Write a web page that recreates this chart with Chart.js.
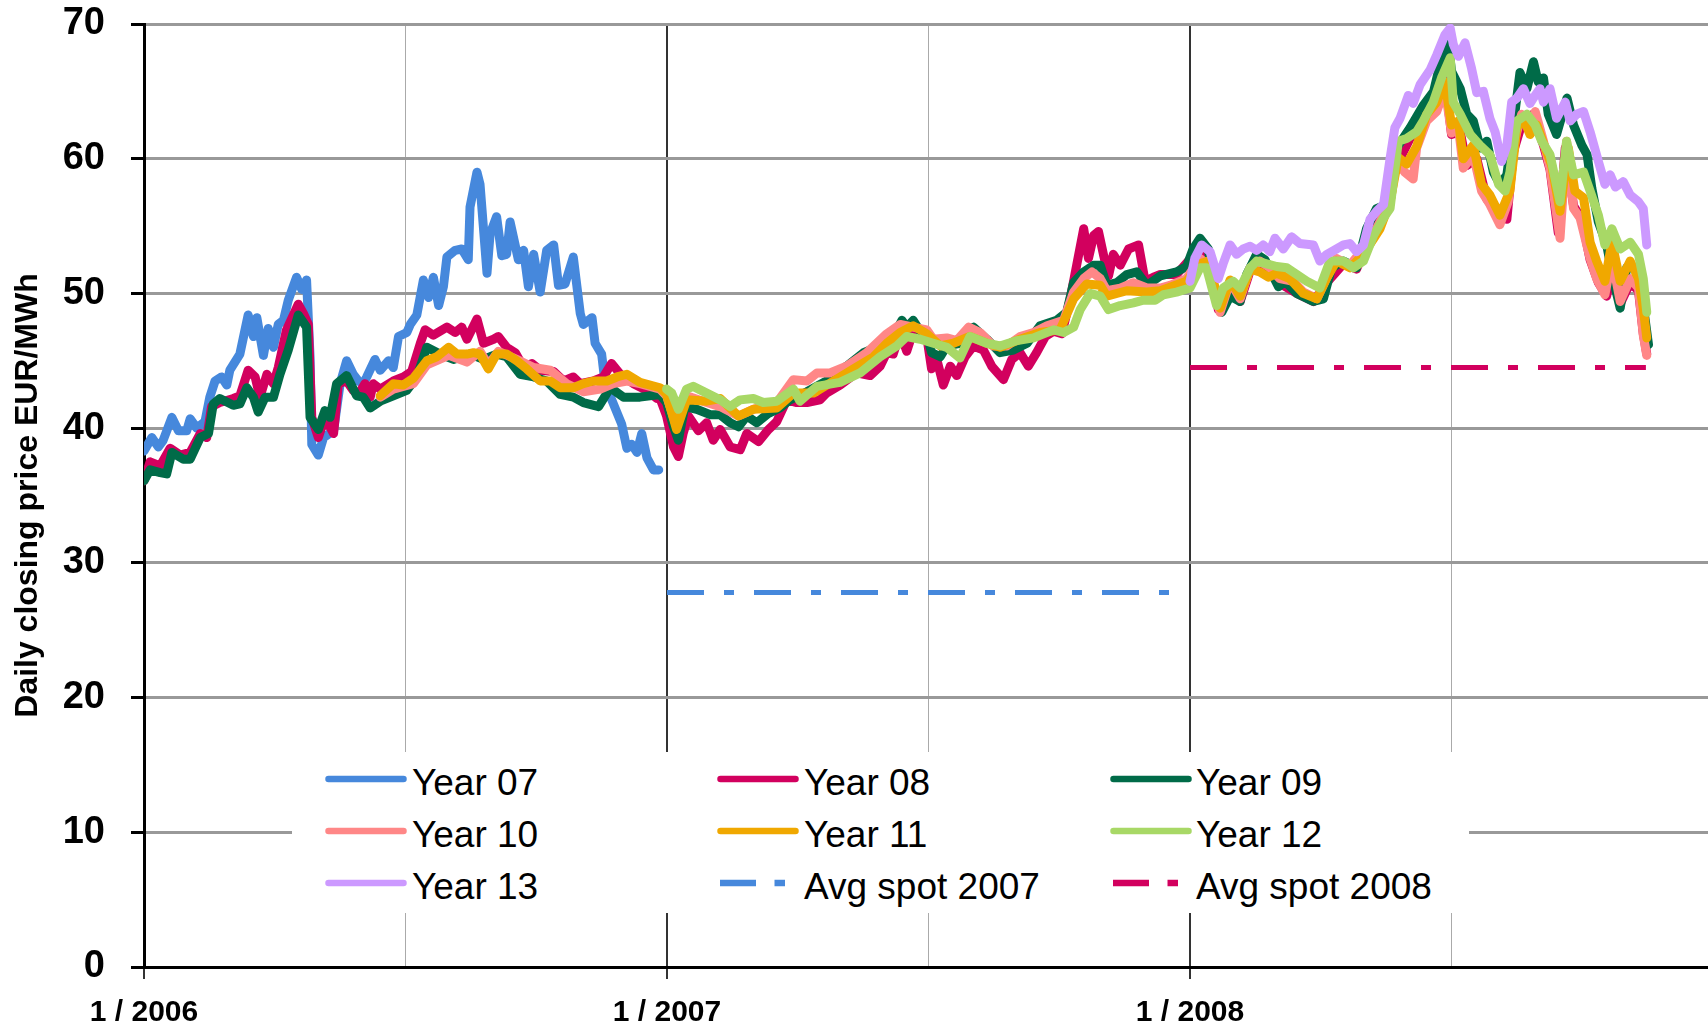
<!DOCTYPE html>
<html>
<head>
<meta charset="utf-8">
<title>Daily closing price</title>
<script src="https://cdn.jsdelivr.net/npm/chart.js@4/dist/chart.umd.min.js"></script>
<style>
  html, body { margin: 0; padding: 0; background: #fff; }
  #wrap { position: relative; width: 1708px; height: 1029px; }
  #legend { position: absolute; left: 292px; top: 752px; width: 1177px; height: 161px; background: #fff;
            font-family: "Liberation Sans", Arial, sans-serif; font-size: 37px; color: #000; }
  #legend .txt { position: absolute; line-height: 37px; white-space: nowrap; }
  #legend svg { position: absolute; }
</style>
</head>
<body>
<div id="wrap">
  <canvas id="myChart" width="1708" height="1029"></canvas>
  <div id="legend"></div>
</div>
<script>
// x = months since 1/2006, y = EUR/MWh
const year07 = [[0.00,38.3],[0.18,39.3],[0.33,38.6],[0.44,39.1],[0.64,40.8],[0.79,39.8],[0.98,39.8],[1.06,40.7],[1.21,40.0],[1.40,40.5],[1.51,42.3],[1.63,43.5],[1.78,43.8],[1.90,43.2],[1.97,44.3],[2.20,45.5],[2.39,48.4],[2.51,46.8],[2.59,48.2],[2.74,45.4],[2.85,47.4],[2.97,46.0],[3.08,47.7],[3.20,48.0],[3.31,49.5],[3.50,51.2],[3.62,50.3],[3.73,51.0],[3.81,45.3],[3.85,38.8],[4.00,38.0],[4.12,39.3],[4.35,39.8],[4.50,43.3],[4.65,45.0],[4.80,44.0],[4.92,43.5],[5.03,43.3],[5.11,43.8],[5.30,45.1],[5.42,44.3],[5.61,45.0],[5.72,44.5],[5.84,46.8],[6.03,47.1],[6.11,47.7],[6.26,48.4],[6.41,51.0],[6.53,49.7],[6.64,51.2],[6.76,49.1],[6.87,50.5],[6.95,52.7],[7.14,53.2],[7.29,53.3],[7.44,52.5],[7.48,56.4],[7.64,59.0],[7.71,58.1],[7.87,51.5],[7.94,54.4],[8.09,55.7],[8.21,52.8],[8.32,52.9],[8.40,55.3],[8.59,52.5],[8.71,53.2],[8.82,50.5],[8.94,52.9],[9.09,50.1],[9.24,53.2],[9.40,53.6],[9.51,50.6],[9.66,50.7],[9.85,52.7],[10.01,48.5],[10.08,47.7],[10.28,48.2],[10.35,46.3],[10.50,45.5],[10.58,43.3],[10.77,41.8],[10.96,40.3],[11.08,38.5],[11.19,38.8],[11.31,38.2],[11.42,39.6],[11.54,37.8],[11.69,36.9],[11.81,36.9]];

const year08 = [[0.00,36.1],[0.14,37.5],[0.37,37.2],[0.60,38.5],[0.83,38.0],[1.06,38.2],[1.29,39.6],[1.44,39.3],[1.55,41.6],[1.74,41.9],[2.05,42.2],[2.20,42.4],[2.39,44.3],[2.55,43.8],[2.66,42.3],[2.82,44.0],[2.97,43.3],[3.08,44.5],[3.27,47.3],[3.54,49.2],[3.66,48.5],[3.77,47.7],[3.85,40.8],[4.00,39.3],[4.15,40.8],[4.35,39.6],[4.46,43.3],[4.65,43.5],[4.80,42.8],[4.92,42.5],[5.07,43.3],[5.19,42.3],[5.26,43.3],[5.42,42.9],[5.72,43.5],[5.95,43.8],[6.14,44.2],[6.34,46.3],[6.45,47.3],[6.64,46.9],[6.95,47.5],[7.14,47.1],[7.29,47.5],[7.41,46.6],[7.64,48.1],[7.79,46.3],[8.02,46.6],[8.13,46.8],[8.32,46.0],[8.52,45.6],[8.71,44.5],[8.90,44.8],[9.09,44.3],[9.40,44.2],[9.63,43.5],[9.85,43.8],[10.01,43.3],[10.31,43.5],[10.54,43.8],[10.73,44.8],[10.93,44.0],[11.23,43.3],[11.54,42.8],[11.77,42.2],
  [11.84,42.2],[11.99,40.9],[12.15,38.6],[12.26,37.9],[12.37,39.6],[12.49,40.9],[12.72,39.8],[12.91,40.4],[13.06,39.1],[13.22,39.9],[13.45,38.6],[13.68,38.4],[13.83,39.6],[14.10,39.0],[14.33,39.9],[14.52,40.5],[14.75,42.1],[14.98,41.9],[15.21,41.9],[15.51,42.1],[15.66,42.6],[15.97,43.2],[16.35,44.1],[16.66,43.9],[16.89,44.6],[17.04,45.6],[17.19,45.5],[17.35,47.1],[17.50,45.7],[17.65,47.2],[17.81,46.7],[17.96,46.8],[18.07,44.4],[18.19,45.1],[18.34,43.2],[18.50,44.6],[18.65,43.9],[18.84,45.3],[19.03,46.1],[19.26,45.8],[19.45,44.6],[19.72,43.6],[19.91,45.1],[20.10,45.6],[20.29,44.6],[20.48,45.6],[20.68,46.8],[20.87,47.2],[21.06,47.0],[21.25,49.6],[21.40,52.1],[21.56,54.8],[21.67,52.6],[21.79,54.3],[21.90,54.6],[22.02,52.8],[22.13,51.3],[22.24,52.9],[22.40,52.1],[22.59,53.3],[22.82,53.6],[22.97,50.9],[23.16,51.2],[23.32,51.4],
  [23.69,51.4],[24.07,52.8],[24.23,53.5],[24.42,52.8],[24.65,48.8],[24.92,50.6],[25.15,49.4],[25.38,51.7],[25.68,52.0],[26.03,50.8],[26.45,50.0],[26.83,49.4],[27.14,50.8],[27.52,52.2],[27.82,51.8],[28.05,53.5],[28.28,55.0],[28.51,56.5],[28.74,59.5],[29.05,61.5],[29.36,62.8],[29.59,64.0],[29.85,66.0],[30.00,61.8],[30.20,62.0],[30.35,59.5],[30.58,60.0],[30.81,57.0],[31.04,56.2],[31.27,55.5],[31.42,60.5],[31.65,63.0],[31.88,63.3],[32.11,61.0],[32.26,59.2],[32.45,54.5],[32.61,60.8],[32.80,56.5],[32.99,55.5],[33.18,52.5],[33.37,50.8],[33.56,49.8],[33.72,52.3],[33.87,49.2],[34.10,50.8],[34.29,50.2],[34.40,47.0],[34.48,45.5]];

const year09 = [[0.00,36.1],[0.14,36.9],[0.37,36.7],[0.52,36.6],[0.64,38.2],[0.90,37.7],[1.06,37.7],[1.29,39.3],[1.48,39.6],[1.59,41.8],[1.74,42.2],[2.05,41.7],[2.20,41.8],[2.36,43.0],[2.51,42.3],[2.62,41.2],[2.78,42.3],[2.97,42.3],[3.12,44.0],[3.31,45.8],[3.54,48.4],[3.73,47.5],[3.81,40.8],[4.00,39.9],[4.15,41.3],[4.27,40.8],[4.42,43.3],[4.65,43.9],[4.88,42.4],[5.03,42.3],[5.19,41.5],[5.42,42.0],[5.72,42.4],[6.03,42.8],[6.26,43.8],[6.49,46.0],[6.79,45.5],[7.10,45.1],[7.48,45.5],[7.79,45.1],[8.09,45.5],[8.32,45.3],[8.63,44.0],[8.94,43.8],[9.24,43.5],[9.55,42.5],[9.85,42.3],[10.08,41.9],[10.43,41.6],[10.70,43.0],[11.00,42.3],[11.38,42.3],
  [11.84,42.5],[11.99,41.9],[12.15,40.1],[12.26,39.1],[12.41,41.6],[12.68,41.4],[12.99,41.0],[13.22,41.0],[13.45,40.4],[13.64,40.1],[13.83,40.9],[14.06,40.4],[14.33,41.1],[14.59,41.5],[14.82,42.1],[15.21,42.7],[15.66,43.5],[16.12,44.6],[16.51,45.6],[16.89,46.1],[17.19,46.8],[17.39,48.0],[17.50,47.5],[17.65,48.0],[17.81,47.2],[17.96,47.0],[18.07,45.6],[18.27,45.3],[18.42,46.1],[18.72,46.3],[19.03,47.5],[19.34,46.6],[19.64,45.6],[19.95,45.8],[20.26,46.3],[20.56,47.6],[20.94,48.0],[21.17,48.6],[21.33,50.8],[21.56,51.6],[21.79,52.1],[21.94,52.1],[22.09,50.6],[22.32,50.8],[22.55,51.4],[22.78,51.6],[23.01,50.6],[23.32,51.3],
  [23.69,51.6],[23.92,52.0],[24.07,53.3],[24.23,54.1],[24.42,53.3],[24.57,50.1],[24.73,48.6],[24.92,49.8],[25.15,49.4],[25.30,51.4],[25.53,52.9],[25.72,52.5],[26.03,50.5],[26.18,50.9],[26.45,50.0],[26.83,49.4],[27.06,49.6],[27.25,51.9],[27.52,52.4],[27.82,51.9],[28.05,54.8],[28.28,56.3],[28.51,56.6],[28.74,60.8],[29.05,62.3],[29.36,64.0],[29.59,65.0],[29.81,68.0],[29.93,68.5],[30.00,66.5],[30.20,65.2],[30.35,63.3],[30.50,62.8],[30.66,60.8],[30.81,61.3],[30.96,59.0],[31.11,58.1],[31.27,58.8],[31.42,62.5],[31.57,66.4],[31.73,65.2],[31.88,67.2],[31.99,65.7],[32.11,66.0],[32.22,63.3],[32.41,61.8],[32.65,64.5],[32.80,62.5],[32.99,61.0],[33.11,60.3],[33.22,57.8],[33.37,55.3],[33.56,53.6],[33.72,50.9],[33.87,48.9],[34.02,51.9],[34.25,51.9],[34.40,49.1],[34.52,46.2]];

const year10 = [[5.42,42.3],[5.72,42.9],[6.18,43.3],[6.49,44.7],[6.99,45.4],[7.41,44.9],[7.71,45.7],[7.90,44.7],[8.13,45.7],[8.55,45.1],[8.94,44.5],[9.32,44.3],[9.70,43.3],[10.08,42.7],[10.47,42.9],[10.77,43.3],[11.08,43.5],[11.38,43.3],
  [11.84,42.9],[11.99,42.4],[12.22,40.1],[12.45,42.4],[12.91,41.9],[13.22,41.6],[13.64,40.9],[13.98,41.4],[14.52,41.9],[14.90,43.6],[15.21,43.5],[15.44,44.1],[15.74,44.1],[16.12,44.6],[16.58,45.6],[17.04,47.0],[17.35,47.7],[17.65,47.5],[17.96,47.3],[18.11,46.6],[18.42,46.7],[18.65,46.5],[18.92,47.5],[19.18,47.1],[19.49,46.1],[19.80,46.1],[20.10,46.8],[20.41,47.1],[20.72,47.6],[21.10,48.0],[21.33,50.1],[21.56,51.1],[21.75,51.6],[21.94,51.1],[22.09,50.2],[22.40,50.4],[22.70,50.8],[23.01,50.4],[23.32,50.4],
  [23.54,50.6],[23.92,51.1],[24.23,52.6],[24.42,52.1],[24.69,48.6],[24.92,50.9],[25.15,49.6],[25.38,51.9],[25.60,52.4],[25.83,51.9],[26.06,51.1],[26.37,50.9],[26.60,50.1],[26.91,49.6],[27.13,51.1],[27.36,52.6],[27.67,52.1],[27.98,53.3],[28.28,54.8],[28.59,56.8],[28.74,59.8],[28.93,59.0],[29.12,58.5],[29.20,60.8],[29.43,62.8],[29.66,63.5],[29.85,65.2],[30.00,61.9],[30.16,62.3],[30.27,59.3],[30.50,60.3],[30.69,57.6],[30.88,56.6],[31.11,55.1],[31.30,56.8],[31.46,61.5],[31.61,63.3],[31.80,62.0],[31.92,63.5],[32.11,61.3],[32.26,59.3],[32.49,54.1],[32.64,61.3],[32.80,56.3],[32.95,55.6],[33.18,52.6],[33.33,51.1],[33.52,49.9],[33.68,52.6],[33.87,49.4],[34.10,51.1],[34.29,50.4],[34.40,46.9],[34.48,45.4]];

const year11 = [[5.42,42.4],[5.72,43.3],[5.95,43.2],[6.18,43.7],[6.49,45.0],[6.72,45.3],[6.99,46.0],[7.18,45.5],[7.41,45.5],[7.56,45.6],[7.71,45.5],[7.90,44.4],[8.09,45.5],[8.32,45.5],[8.55,45.0],[8.78,44.4],[9.09,43.5],[9.32,43.5],[9.55,43.0],[9.85,43.0],[10.08,43.3],[10.31,43.5],[10.62,43.5],[10.85,43.8],[11.08,44.0],[11.38,43.4],
  [11.84,43.0],[11.99,42.5],[12.22,39.9],[12.45,42.1],[12.91,42.0],[13.22,42.2],[13.64,40.9],[13.98,41.4],[14.52,41.5],[14.90,42.6],[15.36,42.6],[15.82,43.5],[16.28,44.4],[16.74,45.3],[17.04,46.3],[17.35,47.1],[17.65,47.6],[17.96,47.0],[18.27,46.1],[18.57,46.3],[18.95,46.8],[19.34,46.3],[19.64,46.0],[20.10,46.6],[20.56,47.1],[21.02,47.3],[21.33,49.6],[21.63,50.7],[21.94,50.6],[22.09,49.8],[22.55,50.2],[23.01,50.1],[23.32,50.2],
  [23.92,50.9],[24.23,52.2],[24.42,52.4],[24.69,48.9],[24.92,51.0],[25.15,49.8],[25.38,51.8],[25.60,51.6],[25.80,51.2],[25.99,51.5],[26.29,51.1],[26.60,50.0],[26.91,49.6],[27.13,51.1],[27.36,52.4],[27.67,51.9],[27.98,52.9],[28.36,54.8],[28.59,56.8],[28.78,60.1],[28.97,59.6],[29.20,60.9],[29.43,63.3],[29.66,64.2],[29.85,65.7],[30.00,62.5],[30.16,62.8],[30.27,60.0],[30.50,61.0],[30.69,58.1],[30.88,57.3],[31.11,55.8],[31.34,57.6],[31.50,62.3],[31.65,63.0],[31.80,61.8],[31.96,62.5],[32.15,60.8],[32.30,59.5],[32.49,56.1],[32.68,60.8],[32.83,57.6],[33.03,57.1],[33.18,53.8],[33.33,52.4],[33.52,50.9],[33.68,53.8],[33.87,50.9],[34.10,52.4],[34.29,51.1],[34.40,48.9],[34.48,46.7]];

const year12 = [[11.99,42.9],[12.11,42.6],[12.26,41.4],[12.45,42.9],[12.60,43.1],[12.91,42.6],[13.22,42.1],[13.45,41.6],[13.68,42.1],[13.98,42.2],[14.21,41.9],[14.52,42.0],[14.90,42.9],[15.05,42.0],[15.44,43.1],[15.97,43.4],[16.43,44.1],[16.89,45.3],[17.27,46.1],[17.50,46.8],[17.81,46.6],[18.11,46.3],[18.42,46.0],[18.72,45.2],[18.95,46.8],[19.34,46.3],[19.64,46.1],[20.03,46.5],[20.41,46.7],[20.87,47.3],[21.10,47.1],[21.33,47.5],[21.48,48.8],[21.71,50.0],[21.94,49.8],[22.13,48.8],[22.40,49.1],[22.70,49.3],[22.93,49.5],[23.20,49.5],
  [23.39,49.9],[23.69,50.1],[24.00,50.4],[24.23,51.9],[24.38,51.9],[24.61,49.1],[24.76,50.4],[24.99,50.9],[25.15,50.4],[25.38,51.9],[25.53,52.4],[25.76,52.2],[25.99,52.0],[26.22,51.9],[26.45,51.4],[26.68,50.9],[26.98,50.4],[27.21,52.4],[27.52,52.4],[27.75,51.9],[27.98,52.4],[28.21,54.3],[28.44,55.6],[28.59,56.3],[28.78,61.3],[28.97,61.5],[29.20,62.0],[29.35,62.8],[29.58,64.2],[29.77,66.0],[29.97,67.5],[30.04,64.2],[30.20,63.3],[30.43,61.8],[30.65,61.0],[30.88,60.3],[31.08,58.1],[31.23,57.6],[31.34,59.0],[31.50,62.8],[31.73,63.3],[31.92,62.5],[32.07,61.3],[32.26,60.3],[32.49,56.8],[32.64,61.3],[32.80,58.8],[33.03,59.0],[33.18,57.6],[33.37,55.8],[33.52,53.6],[33.68,54.8],[33.87,53.3],[34.10,53.8],[34.29,52.9],[34.40,51.1],[34.48,48.6]];

const year13 = [[24.00,50.9],[24.11,52.6],[24.27,53.6],[24.46,53.1],[24.65,51.1],[24.76,52.2],[24.92,53.6],[25.07,52.9],[25.22,53.3],[25.38,53.5],[25.53,53.2],[25.68,53.6],[25.83,53.1],[25.95,54.1],[26.14,53.3],[26.33,54.2],[26.52,53.7],[26.83,53.6],[26.98,52.4],[27.14,52.9],[27.36,53.3],[27.52,53.6],[27.67,53.7],[27.82,53.1],[27.98,53.6],[28.13,55.5],[28.28,56.1],[28.44,56.6],[28.59,60.0],[28.70,62.3],[28.82,63.0],[29.01,64.7],[29.12,64.1],[29.28,65.5],[29.51,66.6],[29.66,67.7],[29.85,69.2],[29.97,69.7],[30.04,68.5],[30.16,67.6],[30.31,68.6],[30.46,66.7],[30.58,64.9],[30.73,65.0],[30.88,63.0],[31.00,62.0],[31.15,59.8],[31.27,61.0],[31.38,64.2],[31.50,64.5],[31.65,65.2],[31.80,64.1],[31.92,64.7],[32.03,65.2],[32.11,64.2],[32.26,65.2],[32.41,63.0],[32.61,64.2],[32.72,62.8],[32.87,63.3],[33.03,63.5],[33.18,62.0],[33.37,59.8],[33.52,58.1],[33.64,58.8],[33.76,57.9],[33.94,58.3],[34.10,57.3],[34.29,56.8],[34.40,56.3],[34.48,53.6]];

const avgSpot2007 = [[12.0,27.8],[23.57,27.8]];
const avgSpot2008 = [[24.0,44.5],[34.46,44.5]];

const seriesNames = ['Year 07', 'Year 08', 'Year 09', 'Year 10', 'Year 11', 'Year 12', 'Year 13', 'Avg spot 2007', 'Avg spot 2008'];
const seriesColors = ['#4688DC', '#D2005E', '#006B48', '#FF8787', '#F0A800', '#A8D866', '#CC99FF', '#4688DC', '#D2005E'];
const seriesData = [year07, year08, year09, year10, year11, year12, year13, avgSpot2007, avgSpot2008];

const yTicks = [0, 10, 20, 30, 40, 50, 60, 70];
const xGridMonths = [0, 6, 12, 18, 24, 30];
const xTickLabels = ['1 / 2006', '1 / 2007', '1 / 2008'];

const spotDash = [37, 20, 10, 20];
const FONT = '"Liberation Sans", Arial, sans-serif';
const LINE_W = 9;

const datasets = seriesData.map((d, i) => {
  const isSpot = i >= 7;
  return {
    label: seriesNames[i],
    data: d.map(p => ({ x: p[0], y: p[1] })),
    borderColor: seriesColors[i],
    borderWidth: isSpot ? 5 : LINE_W,
    borderDash: isSpot ? spotDash : [],
    borderCapStyle: isSpot ? 'butt' : 'round',
    borderJoinStyle: 'round',
    pointRadius: 0,
    tension: 0,
    fill: false,
    order: isSpot ? 0 : 7 - i
  };
});

const isYear = v => v % 12 === 0;

const ctx = document.getElementById('myChart');
new Chart(ctx, {
  type: 'line',
  data: { datasets: datasets },
  options: {
    responsive: false,
    animation: false,
    layout: { padding: { top: 24, right: 0, bottom: 0, left: 0 } },
    plugins: { legend: { display: false }, tooltip: { enabled: false } },
    scales: {
      x: {
        type: 'linear',
        min: 0,
        max: 35.885,
        afterBuildTicks: s => { s.ticks = xGridMonths.map(v => ({ value: v })); },
        afterFit: s => { s.height = 62; s.paddingLeft = 0; s.paddingRight = 0; },
        grid: {
          color: c => (c.tick && isYear(c.tick.value)) ? '#333' : '#aaa',
          lineWidth: c => (c.tick && isYear(c.tick.value)) ? 2 : 1,
          tickLength: 12,
          tickColor: c => (c.tick && isYear(c.tick.value)) ? '#333' : 'rgba(0,0,0,0)'
        },
        border: { display: true, color: '#000', width: 3 },
        ticks: {
          autoSkip: false,
          maxRotation: 0,
          padding: 16,
          color: '#000',
          font: { family: FONT, size: 30, weight: 'bold' },
          callback: v => isYear(v) ? xTickLabels[v / 12] : ''
        }
      },
      y: {
        min: 0,
        max: 70,
        afterBuildTicks: s => { s.ticks = yTicks.map(v => ({ value: v })); },
        afterFit: s => { s.width = 144; s.paddingTop = 0; s.paddingBottom = 0; },
        grid: {
          color: c => (c.tick && c.tick.value === 0) ? '#000' : '#999',
          lineWidth: 3,
          tickLength: 13,
          tickColor: '#000'
        },
        border: { display: true, color: '#000', width: 3 },
        ticks: {
          padding: 26,
          color: '#000',
          font: { family: FONT, size: 38, weight: 'bold' }
        },
        title: {
          display: true,
          text: 'Daily closing price EUR/MWh',
          color: '#000',
          font: { family: FONT, size: 32, weight: 'bold' },
          padding: { top: 9, bottom: 0 }
        }
      }
    }
  }
});

// legend drawn as html, 3 columns x 3 rows, inside the plot
const legend = document.getElementById('legend');
const colLine = [33, 425, 818];
const colText = [120, 512, 904];
const rowLine = [27, 79, 131];
const rowText = [11.6, 63.6, 115.6];
seriesNames.forEach((name, i) => {
  const col = i % 3, row = Math.floor(i / 3);
  const color = seriesColors[i];
  const svgNS = 'http://www.w3.org/2000/svg';
  const svg = document.createElementNS(svgNS, 'svg');
  svg.setAttribute('width', 82);
  svg.setAttribute('height', 14);
  svg.style.left = colLine[col] + 'px';
  svg.style.top = (rowLine[row] - 7) + 'px';
  const segs = i >= 7 ? [[3, 39], [57.5, 68]] : [[3.5, 78.5]];
  segs.forEach(sg => {
    const ln = document.createElementNS(svgNS, 'line');
    ln.setAttribute('x1', sg[0]);
    ln.setAttribute('x2', sg[1]);
    ln.setAttribute('y1', 7);
    ln.setAttribute('y2', 7);
    ln.setAttribute('stroke', color);
    ln.setAttribute('stroke-width', 6.5);
    ln.setAttribute('stroke-linecap', i >= 7 ? 'butt' : 'round');
    svg.appendChild(ln);
  });
  legend.appendChild(svg);
  const t = document.createElement('div');
  t.className = 'txt';
  t.style.left = colText[col] + 'px';
  t.style.top = rowText[row] + 'px';
  t.textContent = name;
  legend.appendChild(t);
});
</script>
</body>
</html>
